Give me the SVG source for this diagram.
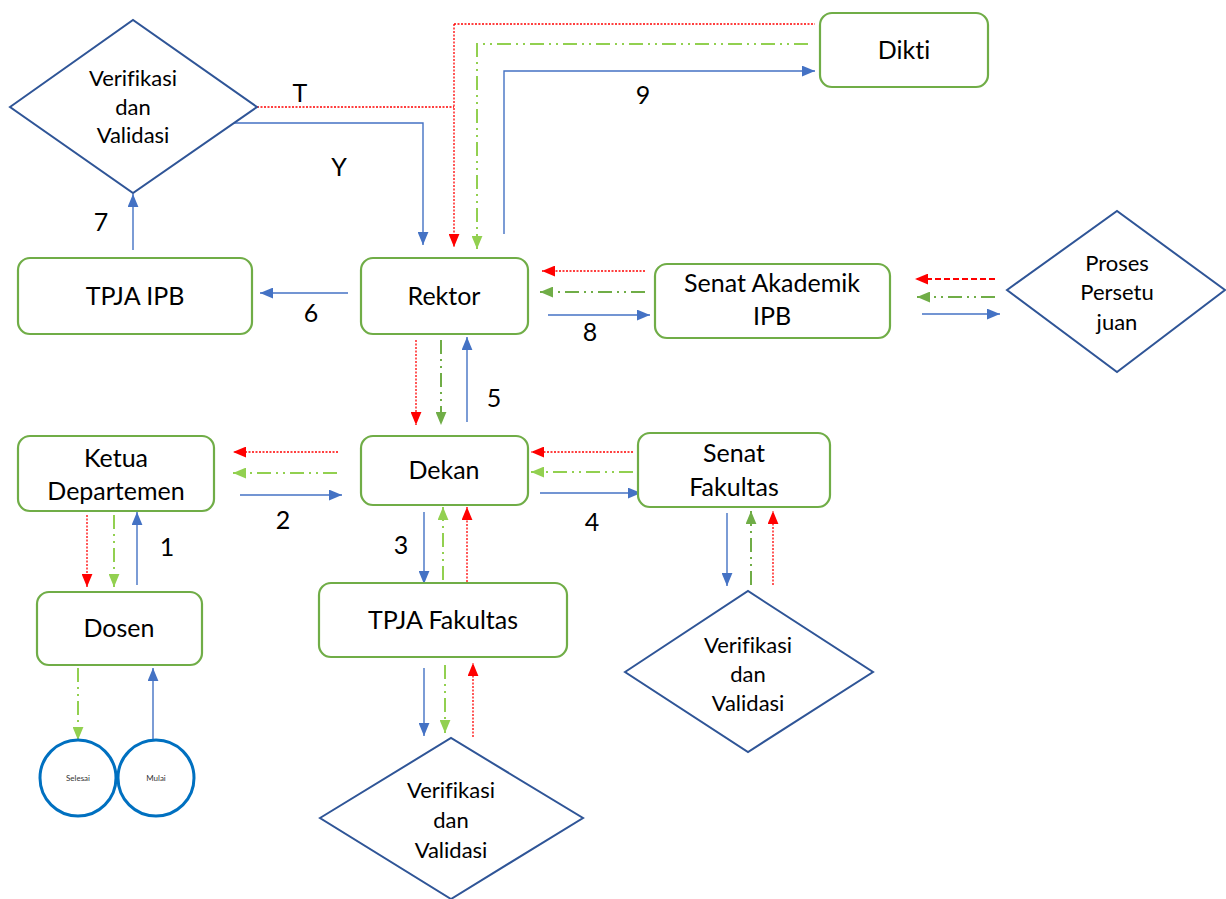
<svg xmlns="http://www.w3.org/2000/svg" width="1226" height="899" viewBox="0 0 1226 899">
<defs>
<style>
.box{fill:#fff;stroke:#70ad47;stroke-width:2.2}
.dia{fill:#fff;stroke:#2f5597;stroke-width:2}
.t{font-family:Lato,"Liberation Sans",sans-serif;font-size:25px;fill:#000;text-anchor:middle;font-variant-ligatures:none}
.td{font-family:Lato,"Liberation Sans",sans-serif;font-size:22px;fill:#000;text-anchor:middle;font-variant-ligatures:none}
.ts{font-family:Lato,"Liberation Sans",sans-serif;font-size:8px;fill:#333;text-anchor:middle}
.b{fill:none;stroke:#4472c4;stroke-width:1.4}
.r{fill:none;stroke:#ff0000;stroke-width:1.3;stroke-dasharray:2 1.5}
.rd{fill:none;stroke:#ff0000;stroke-width:2;stroke-dasharray:6 3}
.g{fill:none;stroke:#92d050;stroke-width:2;stroke-dasharray:14 5 2 5 2 5}
.gd{fill:none;stroke:#70ad47;stroke-width:2;stroke-dasharray:14 5 2 5 2 5}
.circ{fill:#fff;stroke:#0070c0;stroke-width:3}
</style>
<marker id="ab" viewBox="0 0 12 10" refX="12" refY="5" markerWidth="13" markerHeight="11" markerUnits="userSpaceOnUse" orient="auto"><path d="M0,0 L12,5 L0,10 z" fill="#4472c4"/></marker>
<marker id="ar" viewBox="0 0 12 10" refX="12" refY="5" markerWidth="13" markerHeight="11" markerUnits="userSpaceOnUse" orient="auto"><path d="M0,0 L12,5 L0,10 z" fill="#ff0000"/></marker>
<marker id="ag" viewBox="0 0 12 10" refX="12" refY="5" markerWidth="13" markerHeight="11" markerUnits="userSpaceOnUse" orient="auto"><path d="M0,0 L12,5 L0,10 z" fill="#92d050"/></marker>
<marker id="agd" viewBox="0 0 12 10" refX="12" refY="5" markerWidth="13" markerHeight="11" markerUnits="userSpaceOnUse" orient="auto"><path d="M0,0 L12,5 L0,10 z" fill="#70ad47"/></marker>
</defs>
<rect width="1226" height="899" fill="#fff"/>

<g id="connectors">
<path class="r" d="M257,107 H454"/>
<path class="r" d="M454,24 V247" marker-end="url(#ar)"/>
<path class="r" d="M454,24 H815"/>
<path class="g" d="M808,44 H477 V249" marker-end="url(#ag)"/>
<path class="b" d="M504,234 V71 H815" marker-end="url(#ab)"/>
<path class="b" d="M233,123 H423 V245" marker-end="url(#ab)"/>
<path class="b" d="M348,293 H260" marker-end="url(#ab)"/>
<path class="b" d="M133,250 V194" marker-end="url(#ab)"/>
<path class="r" d="M645,271 H542" marker-end="url(#ar)"/>
<path class="gd" d="M645,292 H540" marker-end="url(#agd)"/>
<path class="b" d="M548,315 H650" marker-end="url(#ab)"/>
<path class="rd" d="M995,279 H915" marker-end="url(#ar)"/>
<path class="gd" d="M995,297 H917" marker-end="url(#agd)"/>
<path class="b" d="M922,314 H1000" marker-end="url(#ab)"/>
<path class="r" d="M416,340 V425" marker-end="url(#ar)"/>
<path class="gd" d="M441,340 V425" marker-end="url(#agd)"/>
<path class="b" d="M467,422 V337" marker-end="url(#ab)"/>
<path class="r" d="M338,452 H233" marker-end="url(#ar)"/>
<path class="g" d="M337,473 H233" marker-end="url(#ag)"/>
<path class="b" d="M240,495 H342" marker-end="url(#ab)"/>
<path class="r" d="M633,452 H531" marker-end="url(#ar)"/>
<path class="g" d="M633,472 H531" marker-end="url(#ag)"/>
<path class="b" d="M540,493 H641" marker-end="url(#ab)"/>
<path class="r" d="M87,515 V587" marker-end="url(#ar)"/>
<path class="g" d="M114,515 V587" marker-end="url(#ag)"/>
<path class="b" d="M137,585 V512" marker-end="url(#ab)"/>
<path class="g" d="M78,668 V740" marker-end="url(#ag)"/>
<path class="b" d="M153,745 V668" marker-end="url(#ab)"/>
<path class="b" d="M424,512 V584" marker-end="url(#ab)"/>
<path class="g" d="M443,580 V507" marker-end="url(#ag)"/>
<path class="r" d="M467,582 V507" marker-end="url(#ar)"/>
<path class="b" d="M424,668 V736" marker-end="url(#ab)"/>
<path class="g" d="M445,665 V733" marker-end="url(#ag)"/>
<path class="r" d="M473,737 V663" marker-end="url(#ar)"/>
<path class="b" d="M727,513 V586" marker-end="url(#ab)"/>
<path class="gd" d="M751,585 V511" marker-end="url(#agd)"/>
<path class="r" d="M773,585 V511" marker-end="url(#ar)"/>
</g>

<g id="labels">
<text class="t" x="300" y="102">T</text>
<text class="t" x="339" y="176">Y</text>
<text class="t" x="643" y="104">9</text>
<text class="t" x="311" y="322">6</text>
<text class="t" x="101" y="231">7</text>
<text class="t" x="590" y="341">8</text>
<text class="t" x="494" y="407">5</text>
<text class="t" x="283" y="529">2</text>
<text class="t" x="592" y="531">4</text>
<text class="t" x="167" y="556">1</text>
<text class="t" x="401" y="554">3</text>
</g>

<g id="verif-top">
<polygon class="dia" points="10,107 133,20 257,107 133,193"/>
<text class="td" x="133" y="86">Verifikasi</text>
<text class="td" x="133" y="115">dan</text>
<text class="td" x="133" y="143">Validasi</text>
</g>

<g id="dikti">
<rect class="box" x="820" y="13" width="168" height="74" rx="12"/>
<text class="t" x="904" y="59">Dikti</text>
</g>

<g id="tpja-ipb">
<rect class="box" x="18" y="258" width="234" height="76" rx="12"/>
<text class="t" x="135" y="305">TPJA IPB</text>
</g>

<g id="rektor">
<rect class="box" x="361" y="258" width="167" height="76" rx="12"/>
<text class="t" x="444" y="305">Rektor</text>
</g>

<g id="senat-akademik">
<rect class="box" x="655" y="264" width="235" height="74" rx="12"/>
<text class="t" x="772" y="292">Senat Akademik</text>
<text class="t" x="772" y="325">IPB</text>
</g>

<g id="proses">
<polygon class="dia" points="1007,290 1117,211 1225,290 1117,372"/>
<text class="td" x="1117" y="271">Proses</text>
<text class="td" x="1117" y="300">Persetu</text>
<text class="td" x="1117" y="330">juan</text>
</g>

<g id="ketua">
<rect class="box" x="18" y="436" width="196" height="75" rx="12"/>
<text class="t" x="116" y="467">Ketua</text>
<text class="t" x="116" y="500">Departemen</text>
</g>

<g id="dekan">
<rect class="box" x="361" y="436" width="167" height="69" rx="12"/>
<text class="t" x="444" y="479">Dekan</text>
</g>

<g id="senat-fakultas">
<rect class="box" x="638" y="433" width="192" height="74" rx="12"/>
<text class="t" x="734" y="462">Senat</text>
<text class="t" x="734" y="496">Fakultas</text>
</g>

<g id="dosen">
<rect class="box" x="37" y="592" width="165" height="73" rx="12"/>
<text class="t" x="119" y="637">Dosen</text>
</g>

<g id="tpja-fakultas">
<rect class="box" x="319" y="583" width="248" height="74" rx="12"/>
<text class="t" x="443" y="629">TPJA Fakultas</text>
</g>

<g id="verif-fakultas">
<polygon class="dia" points="625,672 748,591 873,672 748,752"/>
<text class="td" x="748" y="653">Verifikasi</text>
<text class="td" x="748" y="682">dan</text>
<text class="td" x="748" y="711">Validasi</text>
</g>

<g id="verif-tpja">
<polygon class="dia" points="320,818 451,738 583,818 451,899"/>
<text class="td" x="451" y="798">Verifikasi</text>
<text class="td" x="451" y="828">dan</text>
<text class="td" x="451" y="858">Validasi</text>
</g>

<g id="selesai">
<circle class="circ" cx="78" cy="778" r="38"/>
<text class="ts" x="78" y="781">Selesai</text>
</g>

<g id="mulai">
<circle class="circ" cx="156" cy="778" r="38"/>
<text class="ts" x="156" y="781">Mulai</text>
</g>
</svg>
